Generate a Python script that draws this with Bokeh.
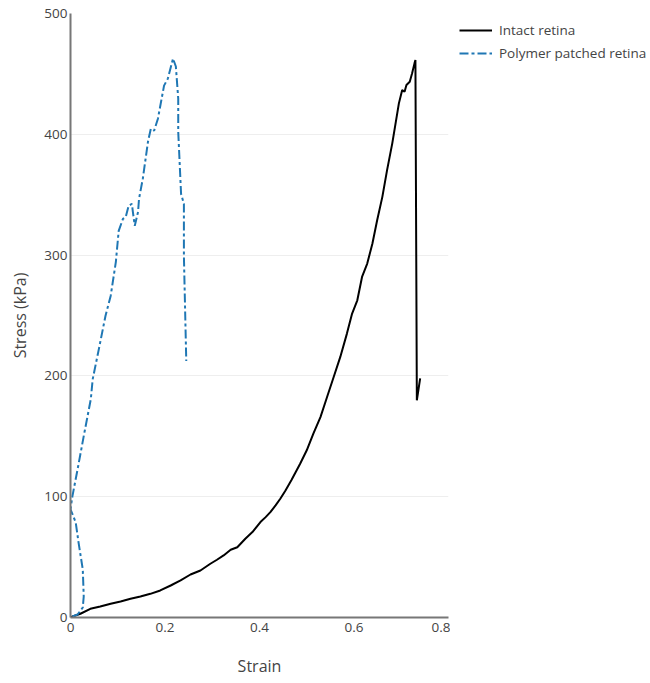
from bokeh.plotting import figure
from bokeh.layouts import row
from bokeh.models import Range1d, FixedTicker, CustomJSTickFormatter, Legend, LegendItem
from bokeh.embed import file_html
from bokeh.resources import INLINE

# Intact retina (black solid)
intact_strain = [0.000, 0.021, 0.042, 0.063, 0.085, 0.106, 0.127, 0.148, 0.169, 0.190,
                 0.212, 0.233, 0.254, 0.275, 0.296, 0.310, 0.324, 0.339, 0.353, 0.360,
                 0.370, 0.385, 0.402, 0.413, 0.423, 0.434, 0.444, 0.455, 0.468, 0.486,
                 0.500, 0.514, 0.529, 0.543, 0.557, 0.571, 0.585, 0.596, 0.607, 0.617,
                 0.628, 0.639, 0.649, 0.660, 0.670, 0.681, 0.688, 0.695, 0.702, 0.707,
                 0.711, 0.718, 0.723, 0.728, 0.730, 0.733, 0.740]
intact_stress = [0.2, 3.1, 7.2, 9.1, 11.4, 13.3, 15.5, 17.4, 19.6, 22.4,
                 26.5, 30.7, 35.6, 38.9, 44.5, 47.8, 51.4, 56.1, 58.2, 61.1,
                 65.2, 70.7, 79.0, 83.1, 87.2, 92.8, 98.3, 105.2, 114.0, 127.3,
                 138.4, 152.2, 165.9, 182.5, 199.1, 215.7, 235.0, 251.6, 262.6, 281.9,
                 293.0, 309.6, 328.9, 348.2, 370.3, 392.5, 409.0, 425.6, 436.6, 435.2,
                 440.8, 443.5, 450.5, 458.7, 461.5, 179.8, 198.0]

# Polymer patched retina (blue dash-dot)
patched_strain = [0.004, 0.015, 0.026, 0.028, 0.026, 0.017, 0.011, 0.000, 0.004, 0.015,
                  0.028, 0.043, 0.047, 0.060, 0.074, 0.085, 0.096, 0.102, 0.111, 0.117,
                  0.123, 0.130, 0.132, 0.136, 0.143, 0.145, 0.153, 0.164, 0.170, 0.177,
                  0.185, 0.198, 0.206, 0.217, 0.223, 0.228, 0.228, 0.234, 0.240, 0.240,
                  0.245]
patched_stress = [0.8, 2.5, 8.3, 17.4, 39.8, 62.2, 78.8, 89.6, 100.3, 122.7,
                  150.1, 180.8, 197.3, 222.2, 249.6, 266.2, 294.4, 320.1, 330.0, 331.7,
                  340.8, 342.5, 335.8, 324.2, 335.8, 346.6, 363.2, 393.9, 404.6, 403.0,
                  412.9, 440.3, 446.1, 462.7, 456.1, 429.5, 402.2, 350.7, 342.5, 299.3,
                  212.3]

x_ticks = [0, 0.2, 0.4, 0.6, 0.8]
y_ticks = [0, 100, 200, 300, 400, 500]
series_names = ["Intact retina", "Polymer patched retina"]

FONT = "Open Sans"
TXT = "#444444"
BLUE = "#1f77b4"
DASH = "9 3 3 3"

p = figure(width=450, height=683, output_backend="svg", toolbar_location=None,
           x_range=Range1d(0, 0.8), y_range=Range1d(0, 500),
           min_border_left=70, min_border_right=2, min_border_top=13, min_border_bottom=66)
p.outline_line_color = None
p.background_fill_color = "white"

p.line(intact_strain, intact_stress, line_color="black", line_width=2)
p.line(patched_strain, patched_stress, line_color=BLUE, line_width=2, line_dash=DASH)

p.xgrid.grid_line_color = None
p.ygrid.grid_line_color = "#eeeeee"
p.ygrid.grid_line_width = 1
p.ygrid.ticker = FixedTicker(ticks=y_ticks)

p.xaxis.ticker = FixedTicker(ticks=x_ticks)
p.yaxis.ticker = FixedTicker(ticks=y_ticks)
p.xaxis.formatter = CustomJSTickFormatter(code="return String(Number(tick.toFixed(2)));")

for ax in (p.xaxis[0], p.yaxis[0]):
    ax.axis_line_color = "#777777"
    ax.axis_line_width = 2
    ax.major_tick_line_color = None
    ax.minor_tick_line_color = None
    ax.major_tick_out = 0
    ax.major_tick_in = 0
    ax.major_label_text_font = FONT
    ax.major_label_text_font_size = "13.5px"
    ax.major_label_text_color = TXT
    ax.axis_label_text_font = FONT
    ax.axis_label_text_font_size = "16px"
    ax.axis_label_text_font_style = "normal"
    ax.axis_label_text_color = TXT

p.xaxis.axis_label = "Strain"
p.yaxis.axis_label = "Stress (kPa)"
p.xaxis.major_label_standoff = 5
p.yaxis.major_label_standoff = 3
p.xaxis.axis_label_standoff = 20
p.yaxis.axis_label_standoff = 10

# Legend panel to the right of the plot area (its frame is aligned with the main frame)
lp = figure(width=200, height=683, output_backend="svg", toolbar_location=None,
            x_axis_type=None, y_axis_type=None,
            x_range=Range1d(0, 1), y_range=Range1d(0, 1),
            min_border_left=0, min_border_right=0, min_border_top=0, min_border_bottom=0)
lp.outline_line_color = None
lp.xgrid.grid_line_color = None
lp.ygrid.grid_line_color = None
# legend key lines, placed outside the visible range of the legend panel
k1 = lp.line([5, 6], [5, 6], line_color="black", line_width=2)
k2 = lp.line([5, 6], [5, 6], line_color=BLUE, line_width=2, line_dash=DASH)

legend = Legend(items=[LegendItem(label=series_names[0], renderers=[k1]),
                       LegendItem(label=series_names[1], renderers=[k2])],
                location=(9, 555), orientation="vertical",
                border_line_color=None, background_fill_alpha=0,
                padding=0, margin=0, spacing=5,
                glyph_width=33, glyph_height=16, label_height=16,
                label_standoff=7,
                label_text_font=FONT, label_text_font_size="13.5px",
                label_text_color=TXT)
lp.add_layout(legend, "center")

layout = row(p, lp, spacing=0)
open("out.html", "w").write(file_html(layout, INLINE))
